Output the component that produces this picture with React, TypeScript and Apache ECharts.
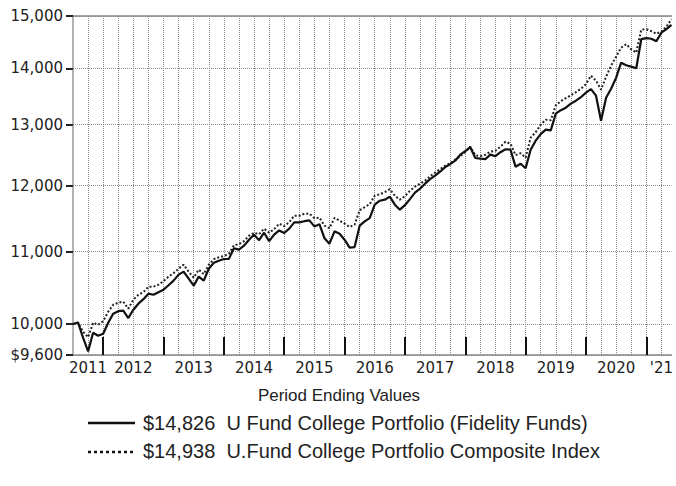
import React, { useEffect, useRef } from 'react';
import * as echarts from 'echarts';

// Monthly period ends, June 2011 .. May 2021
const START_YEAR = 2011;
const START_MONTH = 6;
const MONTH_COUNT = 120;
const months: string[] = [];
for (let i = 0; i < MONTH_COUNT; i++) {
  const m = START_MONTH - 1 + i;
  const y = START_YEAR + Math.floor(m / 12);
  const mm = (m % 12) + 1;
  months.push(`${y}-${String(mm).padStart(2, '0')}`);
}

// U Fund College Portfolio (Fidelity Funds)
const fundValues = [
  10000, 10020, 9821, 9646, 9886, 9847, 9873, 10017, 10137, 10170,
  10177, 10079, 10190, 10271, 10332, 10407, 10393, 10428, 10462, 10524,
  10587, 10671, 10713, 10615, 10517, 10643, 10587, 10755, 10840, 10869,
  10893, 10895, 11049, 11028, 11086, 11174, 11248, 11166, 11277, 11152,
  11248, 11311, 11273, 11337, 11431, 11431, 11449, 11461, 11371, 11404,
  11196, 11115, 11297, 11262, 11174, 11058, 11065, 11382, 11446, 11495,
  11701, 11762, 11778, 11825, 11701, 11624, 11693, 11786, 11887, 11950,
  12029, 12100, 12156, 12220, 12293, 12341, 12398, 12497, 12554, 12621,
  12442, 12431, 12423, 12497, 12472, 12538, 12587, 12579, 12301, 12349,
  12276, 12579, 12729, 12839, 12915, 12903, 13190, 13251, 13294, 13365,
  13417, 13479, 13560, 13622, 13506, 13069, 13471, 13631, 13830, 14106,
  14059, 14032, 14004, 14549, 14568, 14558, 14511, 14674, 14742, 14826,
];

// U.Fund College Portfolio Composite Index
const indexValues = [
  10000, 10020, 9899, 9828, 10017, 9991, 10037, 10163, 10257, 10284,
  10298, 10204, 10325, 10393, 10428, 10503, 10503, 10531, 10580, 10643,
  10692, 10755, 10812, 10713, 10629, 10741, 10678, 10812, 10891, 10919,
  10934, 10970, 11093, 11108, 11152, 11233, 11277, 11255, 11337, 11277,
  11329, 11412, 11374, 11434, 11532, 11532, 11563, 11563, 11495, 11502,
  11382, 11344, 11498, 11457, 11412, 11362, 11397, 11616, 11662, 11708,
  11840, 11863, 11895, 11942, 11840, 11778, 11832, 11918, 11981, 12029,
  12076, 12148, 12204, 12260, 12317, 12358, 12415, 12472, 12538, 12629,
  12488, 12472, 12497, 12546, 12563, 12629, 12712, 12679, 12488, 12521,
  12447, 12780, 12872, 13000, 13086, 13077, 13338, 13409, 13462, 13515,
  13568, 13631, 13712, 13866, 13775, 13613, 13848, 14050, 14218, 14387,
  14454, 14359, 14293, 14732, 14742, 14703, 14655, 14693, 14790, 14938,
];

const seriesNames = [
  'U Fund College Portfolio (Fidelity Funds)',
  'U.Fund College Portfolio Composite Index',
];

const yTickValues = [9600, 10000, 11000, 12000, 13000, 14000, 15000];
const yMin = 9600;
const yMax = 15000;

// months at which year labels are centred
const yearLabelMonths = [
  '2011-09', '2012-06', '2013-06', '2014-06', '2015-06', '2016-06',
  '2017-06', '2018-06', '2019-06', '2020-06', '2021-03',
];
const yearLabelTexts = [
  '2011', '2012', '2013', '2014', '2015', '2016', '2017', '2018', '2019', '2020', "'21",
];

const fmtMoney = (v: number) => '$' + v.toLocaleString('en-US');

export default function App() {
  const ref = useRef<HTMLDivElement>(null);
  useEffect(() => {
    if (!ref.current) return;
    const chart = echarts.init(ref.current, undefined, { renderer: 'svg' });
    const yTicksLog = yTickValues.map((v) => Math.log10(v));
    const axisFont = 'DejaVu Sans';
    const legendFont = '"Liberation Sans", Arial, sans-serif';
    const gridColor = '#8a8a8a';
    const rowText = (v: number, name: string) => fmtMoney(v) + '\u00a0\u00a0' + name;
    chart.setOption({
      animation: false,
      grid: { left: 73, right: 0, top: 16, bottom: 131, containLabel: false },
      xAxis: [
        {
          type: 'category',
          data: months,
          boundaryGap: false,
          axisLine: { show: true, lineStyle: { color: '#888', width: 1.5 } },
          axisTick: {
            show: true,
            inside: true,
            length: 18,
            interval: (_i: number, v: string) => v.endsWith('-12'),
            lineStyle: { color: '#111', width: 2 },
          },
          axisLabel: {
            interval: (_i: number, v: string) => yearLabelMonths.includes(v),
            formatter: (v: string) => yearLabelTexts[yearLabelMonths.indexOf(v)] ?? '',
            fontSize: 15,
            fontFamily: axisFont,
            color: '#222',
            margin: 5,
          },
          splitLine: {
            show: true,
            interval: (i: number, v: string) => i > 0 && Number(v.slice(5)) % 3 === 0,
            lineStyle: { color: gridColor, type: [1, 1], width: 1 },
          },
        },
        {
          type: 'category',
          data: months,
          boundaryGap: false,
          position: 'top',
          axisLine: { show: true, lineStyle: { color: '#888', width: 1.5 } },
          axisTick: { show: false },
          axisLabel: { show: false },
          splitLine: { show: false },
        },
      ],
      yAxis: {
        type: 'value',
        min: Math.log10(yMin),
        max: Math.log10(yMax),
        axisLine: { show: true, lineStyle: { color: '#999', width: 1.5 } },
        axisTick: {
          show: true,
          customValues: yTicksLog,
          length: 7,
          lineStyle: { color: '#222', width: 2 },
        },
        axisLabel: {
          customValues: yTicksLog,
          formatter: (v: number) => {
            const n = Math.round(Math.pow(10, v));
            return n === yMin ? fmtMoney(n) : n.toLocaleString('en-US');
          },
          fontSize: 15,
          fontFamily: axisFont,
          color: '#222',
          margin: 10,
        },
        splitLine: { show: true, lineStyle: { color: gridColor, type: [1, 1], width: 1 } },
      },
      series: [
        {
          name: seriesNames[1],
          type: 'line',
          data: indexValues.map((v) => Math.log10(v)),
          showSymbol: false,
          lineStyle: { color: '#222', width: 2, type: [2, 2] },
          z: 3,
        },
        {
          name: seriesNames[0],
          type: 'line',
          data: fundValues.map((v) => Math.log10(v)),
          showSymbol: false,
          lineStyle: { color: '#111', width: 2.2 },
          z: 4,
        },
      ],
      graphic: [
        {
          type: 'text',
          x: 339,
          y: 395,
          style: {
            text: 'Period Ending Values',
            font: `17px ${legendFont}`,
            fill: '#222',
            textAlign: 'center',
            textVerticalAlign: 'middle',
          },
        },
        {
          type: 'line',
          shape: { x1: 88, y1: 423, x2: 135, y2: 423 },
          style: { stroke: '#111', lineWidth: 2.5 },
        },
        {
          type: 'text',
          x: 143,
          y: 423,
          style: {
            text: rowText(fundValues[fundValues.length - 1], seriesNames[0]),
            font: `20px ${legendFont}`,
            fill: '#222',
            textAlign: 'left',
            textVerticalAlign: 'middle',
          },
        },
        {
          type: 'line',
          shape: { x1: 88, y1: 452, x2: 135, y2: 452 },
          style: { stroke: '#111', lineWidth: 2.5, lineDash: [3, 3] },
        },
        {
          type: 'text',
          x: 143,
          y: 451,
          style: {
            text: rowText(indexValues[indexValues.length - 1], seriesNames[1]),
            font: `20px ${legendFont}`,
            fill: '#222',
            textAlign: 'left',
            textVerticalAlign: 'middle',
          },
        },
      ],
    });
    return () => chart.dispose();
  }, []);
  return (
    <div
      ref={ref}
      style={{ position: 'absolute', left: 0, top: 0, width: 676, height: 486, background: '#fff' }}
    />
  );
}
